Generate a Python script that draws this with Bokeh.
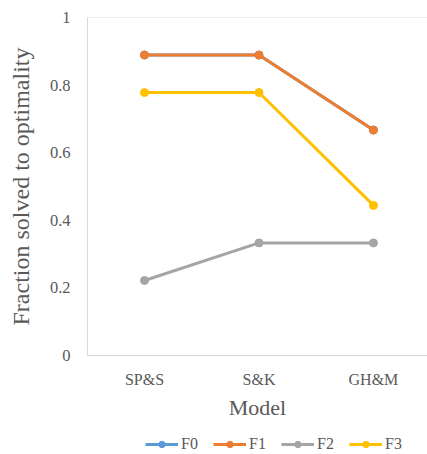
from bokeh.plotting import figure
from bokeh.layouts import column
from bokeh.models import Range1d, FixedTicker, Span, Legend, LegendItem
from bokeh.embed import file_html
from bokeh.resources import INLINE

# Models compared and fraction of instances solved to optimality per formulation
models = ["SP&S", "S&K", "GH&M"]
f0 = [0.889, 0.889, 0.667]
f1 = [0.889, 0.889, 0.667]
f2 = [0.222, 0.333, 0.333]
f3 = [0.778, 0.778, 0.444]

series_names = ["F0", "F1", "F2", "F3"]
series_values = [f0, f1, f2, f3]
series_colors = ["#5B9BD5", "#ED7D31", "#A5A5A5", "#FFC000"]

y_ticks = [0, 0.2, 0.4, 0.6, 0.8, 1]
y_tick_labels = ["0", "0.2", "0.4", "0.6", "0.8", "1"]

FONT = "Liberation Serif"
TEXT = "#595959"
AXIS = "#D9D9D9"

xs = list(range(len(models)))

p = figure(
    width=427, height=434,
    output_backend="svg", toolbar_location=None,
    x_range=Range1d(-0.498, 2.472), y_range=Range1d(0, 1),
    min_border_left=87, min_border_right=0,
    min_border_top=17, min_border_bottom=79,
)
p.outline_line_color = None
p.xgrid.grid_line_color = None
p.ygrid.grid_line_color = None
p.background_fill_color = "white"
p.border_fill_color = "white"

# value axis
p.yaxis.ticker = FixedTicker(ticks=y_ticks)
p.yaxis.major_label_overrides = dict(zip(y_ticks, y_tick_labels))
p.yaxis.axis_label = "Fraction solved to optimality"
p.yaxis.axis_line_color = AXIS
p.yaxis.major_tick_line_color = None
p.yaxis.minor_tick_line_color = None
p.yaxis.major_label_standoff = 11
p.yaxis.axis_label_standoff = 13
p.yaxis.major_label_text_font = FONT
p.yaxis.major_label_text_font_size = "16.5px"
p.yaxis.major_label_text_color = TEXT
p.yaxis.axis_label_text_font = FONT
p.yaxis.axis_label_text_font_size = "24px"
p.yaxis.axis_label_text_font_style = "normal"
p.yaxis.axis_label_text_color = TEXT

# category axis
p.xaxis.ticker = FixedTicker(ticks=xs)
p.xaxis.major_label_overrides = dict(zip(xs, models))
p.xaxis.axis_label = "Model"
p.xaxis.axis_line_color = AXIS
p.xaxis.major_tick_line_color = None
p.xaxis.minor_tick_line_color = None
p.xaxis.major_label_standoff = 9
p.xaxis.axis_label_standoff = 4
p.xaxis.major_label_text_font = FONT
p.xaxis.major_label_text_font_size = "16px"
p.xaxis.major_label_text_color = TEXT
p.xaxis.axis_label_text_font = FONT
p.xaxis.axis_label_text_font_size = "22px"
p.xaxis.axis_label_text_font_style = "normal"
p.xaxis.axis_label_text_color = TEXT

# top edge of the plot area
p.add_layout(Span(location=1, dimension="width", line_color=AXIS, line_width=1))

for vals, color in zip(series_values, series_colors):
    p.line(xs, vals, line_color=color, line_width=3)
    p.scatter(xs, vals, size=8, fill_color=color, line_color=color)

# legend strip beneath the chart
key = figure(
    width=427, height=20,
    output_backend="svg", toolbar_location=None,
    x_axis_location=None, y_axis_location=None,
    min_border=0, outline_line_color=None,
)
key.xgrid.grid_line_color = None
key.ygrid.grid_line_color = None

items = []
for name, vals, color in zip(series_names, series_values, series_colors):
    ln = key.line(xs, vals, line_color=color, line_width=3, visible=False)
    sc = key.scatter(xs, vals, size=8, fill_color=color, line_color=color, visible=False)
    items.append(LegendItem(label=name, renderers=[ln, sc]))

legend = Legend(
    items=items,
    orientation="horizontal",
    location=(58, 1),
    padding=0, margin=0, spacing=12,
    glyph_width=33, glyph_height=16,
    label_height=16, label_standoff=3,
    label_text_font=FONT, label_text_font_size="16px",
    label_text_color=TEXT,
    border_line_color=None, background_fill_alpha=0,
)
key.add_layout(legend)

layout = column(p, key, spacing=0)
open("out.html", "w").write(file_html(layout, INLINE))
